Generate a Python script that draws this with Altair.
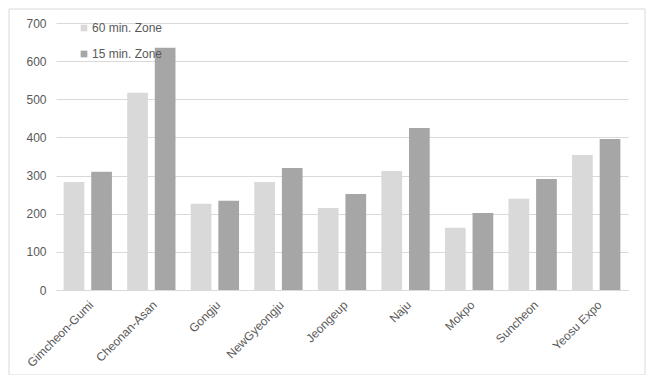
import altair as alt
import pandas as pd

categories = ["Gimcheon-Gumi", "Cheonan-Asan", "Gongju", "NewGyeongju", "Jeongeup",
              "Naju", "Mokpo", "Suncheon", "Yeosu Expo"]
zone60 = [283, 517, 226, 283, 215, 312, 163, 239, 354]
zone15 = [310, 635, 234, 320, 252, 425, 202, 291, 396]
series = ["60 min. Zone", "15 min. Zone"]
colors = ["#d9d9d9", "#a6a6a6"]
y_ticks = [0, 100, 200, 300, 400, 500, 600, 700]

rows = []
for c, a, b in zip(categories, zone60, zone15):
    rows.append({"station": c, "zone": series[0], "value": a})
    rows.append({"station": c, "zone": series[1], "value": b})
df = pd.DataFrame(rows)

FONT = "Liberation Sans"
TXT = "#595959"

bars = alt.Chart(df).mark_bar().encode(
    x=alt.X("station:N", sort=categories,
            scale=alt.Scale(paddingInner=0.24, paddingOuter=0.12),
            axis=alt.Axis(title=None, labelAngle=-45, labelFontSize=12, labelColor=TXT,
                          labelFont=FONT, ticks=False, domainColor="#d9d9d9",
                          labelPadding=9, grid=False)),
    xOffset=alt.XOffset("zone:N", sort=series, scale=alt.Scale(paddingInner=0.25)),
    y=alt.Y("value:Q", scale=alt.Scale(domain=[0, 700], nice=False),
            axis=alt.Axis(title=None, values=y_ticks, labelFontSize=12, labelColor=TXT,
                          labelFont=FONT, ticks=False, domain=False, labelPadding=10,
                          gridColor="#d9d9d9", gridWidth=1)),
    color=alt.Color("zone:N", sort=series,
                    scale=alt.Scale(domain=series, range=colors),
                    legend=alt.Legend(title=None, orient="none", legendX=22, legendY=-1,
                                      symbolType="square", symbolSize=45,
                                      labelFontSize=12, labelColor=TXT, labelFont=FONT,
                                      rowPadding=14, symbolOffset=0, labelOffset=2)),
)

frame = alt.Chart(pd.DataFrame({"k": [0]})).mark_rect(
    fill="white", fillOpacity=0, stroke="#d9d9d9", strokeWidth=1, clip=False
).encode(
    x=alt.value(-47), x2=alt.value(589), y=alt.value(-14), y2=alt.value(352)
)

chart = alt.layer(frame, bars).properties(
    width=572, height=267,
    autosize=alt.AutoSizeParams(type="none"),
    padding={"left": 48, "top": 15, "right": 19, "bottom": 85},
).configure_view(stroke=None)

chart.save("out.html", embed_options={"renderer": "svg", "actions": False})
